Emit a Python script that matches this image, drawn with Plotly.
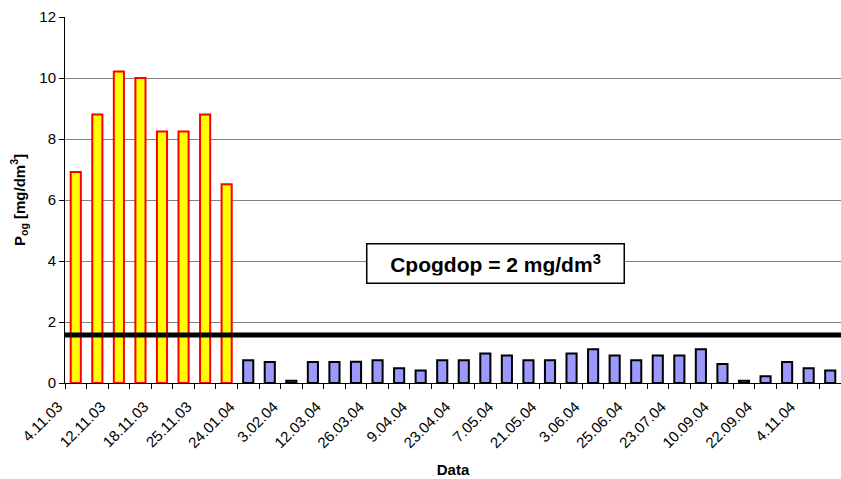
import plotly.graph_objects as go

# Data: 36 sampling dates (only every other one is labelled on the axis)
tick_labels = ["4.11.03", "12.11.03", "18.11.03", "25.11.03", "24.01.04", "3.02.04",
               "12.03.04", "26.03.04", "9.04.04", "23.04.04", "7.05.04", "21.05.04",
               "3.06.04", "25.06.04", "23.07.04", "10.09.04", "22.09.04", "4.11.04"]

before_values = [6.92, 8.80, 10.21, 10.0, 8.25, 8.25, 8.80, 6.52]
after_values = [0.75, 0.69, 0.07, 0.69, 0.69, 0.70, 0.75, 0.48, 0.41,
                0.75, 0.75, 0.97, 0.90, 0.75, 0.75, 0.97, 1.11, 0.90,
                0.75, 0.90, 0.90, 1.11, 0.62, 0.07, 0.22, 0.69, 0.48, 0.41]
threshold = 1.57
annotation_text = "<b>Cpogdop = 2 mg/dm<sup>3</sup></b>"

n_before = len(before_values)
n_total = n_before + len(after_values)
x_before = list(range(n_before))
x_after = list(range(n_before, n_total))

label_vals = [2 * i - 0.5 for i in range(len(tick_labels))]

fig = go.Figure()
fig.add_trace(go.Bar(x=x_before, y=before_values, width=0.47,
                     marker=dict(color="#FFFF00", line=dict(color="#FF0000", width=2))))
fig.add_trace(go.Bar(x=x_after, y=after_values, width=0.47,
                     marker=dict(color="#9999FF", line=dict(color="#000000", width=2))))

fig.add_shape(type="line", xref="x", yref="y", x0=-0.5, x1=n_total - 0.5,
              y0=threshold, y1=threshold, line=dict(color="black", width=5))

fig.add_annotation(x=19.45, y=3.93, xref="x", yref="y", text=annotation_text,
                   showarrow=False, font=dict(family="Liberation Sans, Arial", size=21, color="black"),
                   width=242, height=24,
                   bgcolor="white", bordercolor="black", borderwidth=1.5, borderpad=7)

fig.update_layout(
    width=841, height=479,
    margin=dict(l=65, r=0, t=17, b=96),
    paper_bgcolor="white", plot_bgcolor="white",
    showlegend=False, barmode="overlay",
    font=dict(family="Liberation Sans, Arial", color="black", size=13),
)
fig.update_xaxes(
    automargin=False,
    range=[-0.5, n_total - 0.5], tickmode="array", tickvals=label_vals, ticktext=tick_labels,
    tickangle=-45, ticks="", showline=True, linecolor="black", linewidth=1,
    ticklabelshift=-7, ticklabelstandoff=8,
    showgrid=False, zeroline=False,
    minor=dict(tickmode="linear", tick0=-0.5, dtick=1, ticks="outside", ticklen=5,
               tickcolor="black", showgrid=False),
    tickfont=dict(size=15),
    title=dict(text="<b>Data</b>", font=dict(size=15), standoff=14),
)
fig.update_yaxes(
    automargin=False,
    range=[0, 12], dtick=2, ticks="outside", ticklen=5, tickcolor="black",
    showline=True, linecolor="black", linewidth=1,
    showgrid=True, gridcolor="#808080", gridwidth=1, zeroline=False,
    tickfont=dict(size=15),
    title=dict(text="<b>P<sub>og</sub> [mg/dm<sup>3</sup>]</b>", font=dict(size=15), standoff=10),
)

fig.write_html("out.html", config={"displayModeBar": False})

# remove the default page margin so the figure fills the window exactly
with open("out.html", "r", encoding="utf-8") as f:
    html = f.read()
html = html.replace("<body>", '<body style="margin:0;overflow:hidden">', 1)
with open("out.html", "w", encoding="utf-8") as f:
    f.write(html)
